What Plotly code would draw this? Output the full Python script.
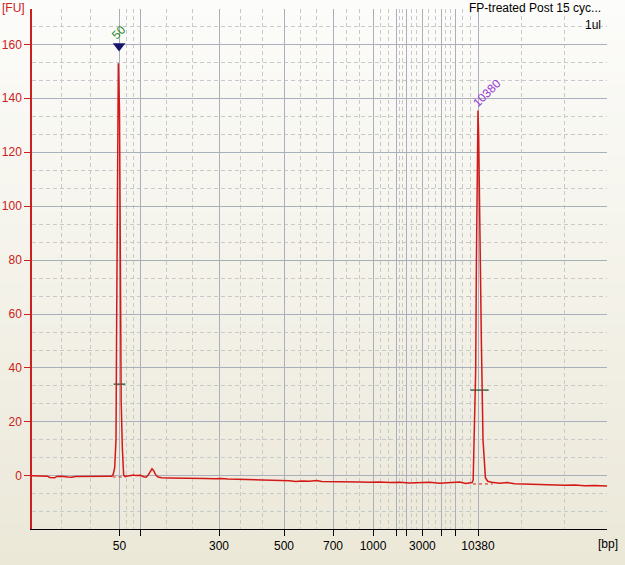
import plotly.graph_objects as go

# ---------------- data ----------------
# migration time (s) and fluorescence (FU)
time_s = [43.00, 43.92, 44.88, 45.12, 45.72, 45.96, 46.56, 47.28, 47.76, 48.24,
          49.32, 50.52, 51.12, 52.08, 52.56, 52.74, 52.92, 53.08, 53.16, 53.36,
          53.50, 53.58, 53.70, 53.84, 54.00, 54.18, 54.36, 54.72, 55.20, 55.44,
          55.80, 56.04, 56.40, 56.70, 56.94, 57.18, 57.40, 57.60, 57.84, 58.12,
          58.56, 59.52, 60.72, 61.68, 62.52, 63.72, 64.92, 65.76, 66.48, 67.92,
          69.12, 70.32, 71.52, 72.72, 73.92, 74.64, 75.36, 76.32, 77.16, 77.76,
          78.72, 79.92, 81.12, 82.32, 83.52, 84.72, 85.92, 87.12, 88.32, 89.52,
          90.72, 91.92, 93.12, 94.32, 95.04, 95.52, 95.82, 95.94, 96.12, 96.24,
          96.33, 96.41, 96.52, 96.60, 96.72, 96.93, 97.12, 97.41, 97.68, 98.16,
          99.12, 100.08, 100.92, 102.12, 103.32, 104.52, 105.72, 106.92, 108.12, 109.32,
          110.52, 112.00]
fu = [0.0, 0.0, -0.1, -0.6, -0.7, -0.2, -0.1, -0.4, -0.5, -0.2,
      -0.1, -0.2, -0.2, -0.1, -0.1, 0.5, 3.0, 13.5, 58.0, 153.0,
      136.0, 88.7, 27.6, 10.5, 0.3, -0.2, -0.1, 0.2, 0.3, 0.1,
      0.3, 0.2, -0.3, -0.5, 0.3, 1.8, 2.6, 1.9, 0.4, -0.4,
      -0.7, -0.8, -0.8, -1.0, -0.9, -1.0, -1.1, -1.0, -1.2, -1.3,
      -1.4, -1.3, -1.6, -1.6, -1.8, -2.1, -1.9, -2.0, -1.7, -2.1,
      -2.2, -2.1, -2.3, -2.3, -2.4, -2.3, -2.5, -2.4, -2.6, -2.5,
      -2.4, -2.7, -2.6, -2.3, -2.8, -2.6, -2.5, -1.5, 18.4, 39.0,
      80.0, 110.5, 135.5, 125.8, 87.2, 48.6, 13.4, -0.7, -2.0, -2.4,
      -2.7, -2.5, -2.9, -3.0, -3.3, -3.2, -3.4, -3.5, -3.4, -3.7,
      -3.6, -3.8]

# ladder positions (time, s) and their bp labels
tick_time = [53.49, 55.96, 65.44, 73.24, 79.12, 83.92, 86.68, 87.88, 89.85, 92.13, 93.76, 96.52]
tick_label = ["50", "", "300", "500", "700", "1000", "", "", "3000", "", "", "10380"]
x_start, x_end = 43.0, 112.0

y_ticks = [0, 20, 40, 60, 80, 100, 120, 140, 160]

# called peaks
peak_label = ["50", "10380"]
peak_time = [53.45, 97.60]
peak_marker_fu = [159.4, None]
peak_label_fu = [164.5, 142.0]
peak_label_color = ["#2a8a2a", "#9a3ad6"]
# peak windows (level lines) and baselines
win_start = [52.80, 95.61]
win_end = [54.20, 97.80]
win_level = [34.0, 31.8]
base_start = [52.68, 95.92]
base_end = [54.24, 98.28]
base_level = [-0.4, -3.0]

# ---------------- figure ----------------
W, H = 625, 565
ML, MR, MT, MB = 32, 18, 9, 36
FONT = "Liberation Sans"

fig = go.Figure()

# peak windows and baselines
for i in range(len(win_start)):
    fig.add_trace(go.Scatter(x=[win_start[i], win_end[i]], y=[win_level[i]] * 2,
                             mode="lines", line=dict(color="#2f6b4f", width=1.5),
                             hoverinfo="skip", showlegend=False))
    fig.add_trace(go.Scatter(x=[base_start[i], base_end[i]], y=[base_level[i]] * 2,
                             mode="lines", line=dict(color="#cc2222", width=1, dash="3px,3px"),
                             hoverinfo="skip", showlegend=False))

fig.add_trace(go.Scatter(x=time_s, y=fu, mode="lines",
                         line=dict(color="#d41818", width=1.5),
                         showlegend=False))

# peak marker triangle
fig.add_trace(go.Scatter(x=[peak_time[0]], y=[peak_marker_fu[0]], mode="markers",
                         marker=dict(symbol="triangle-down", size=11, color="#16166a",
                                     line=dict(width=0)),
                         showlegend=False))

for i in range(len(peak_label)):
    fig.add_annotation(x=peak_time[i], y=peak_label_fu[i], text=peak_label[i],
                       textangle=-45, showarrow=False, xanchor="center", yanchor="middle",
                       font=dict(family=FONT, size=12, color=peak_label_color[i]))

# minor grid: thirds between ladder lines
bounds = [x_start] + tick_time + [x_end]
minor_x = []
for a, b in zip(bounds[:-1], bounds[1:]):
    minor_x += [a + (b - a) / 3, a + 2 * (b - a) / 3]
minor_x.append(x_end)

fig.update_xaxes(range=[x_start, x_end], showline=True, linecolor="black", linewidth=1,
                 ticks="outside", ticklen=6, tickcolor="black", tickwidth=1,
                 tickmode="array", tickvals=tick_time, ticktext=tick_label,
                 showgrid=True, gridcolor="#a9b0bc", gridwidth=1, zeroline=False,
                 automargin=False,
                 tickfont=dict(family=FONT, size=12, color="black"),
                 minor=dict(tickmode="array", tickvals=minor_x, showgrid=True,
                            gridcolor="#c9c9c9", griddash="4px,3px", ticks=""))
fig.update_yaxes(range=[-19.7, 173.1], showline=True, linecolor="#cc2020", linewidth=1.5,
                 ticks="outside", ticklen=6, tickcolor="#cc2020", tickwidth=1,
                 tickmode="array", tickvals=y_ticks,
                 showgrid=True, gridcolor="#a9b0bc", gridwidth=1, zeroline=False,
                 automargin=False,
                 tickfont=dict(family=FONT, size=12, color="#cc2020"),
                 minor=dict(tick0=0, dtick=20 / 3, showgrid=True,
                            gridcolor="#c9c9c9", griddash="4px,3px", ticks=""))

# background gradient bands (paper coords)
ph = H - MT - MB
pw = W - ML - MR
n = 40
top_c = (252, 252, 250)
bot_c = (235, 232, 216)
shapes = []
for k in range(n):
    py0 = H * k / n
    py1 = H * (k + 1) / n + 1
    f = (k + 0.5) / n
    c = tuple(round(top_c[j] + (bot_c[j] - top_c[j]) * f) for j in range(3))
    shapes.append(dict(type="rect", xref="paper", yref="paper",
                       x0=-ML / pw - 0.01, x1=1 + MR / pw + 0.01,
                       y0=(H - MB - py1) / ph, y1=(H - MB - py0) / ph,
                       fillcolor="rgb(%d,%d,%d)" % c, line=dict(width=0), layer="below"))

def px2paper(x, y):
    return (x - ML) / pw, (H - MB - y) / ph

ax, ay = px2paper(0, 8)
fig.add_annotation(xref="paper", yref="paper", x=ax, y=ay, text="[FU]", showarrow=False,
                   xanchor="left", yanchor="middle", font=dict(family=FONT, size=12, color="#cc2020"))
ax, ay = px2paper(596, 544)
fig.add_annotation(xref="paper", yref="paper", x=ax, y=ay, text="[bp]", showarrow=False,
                   xanchor="left", yanchor="middle", font=dict(family=FONT, size=12, color="black"))
ax, ay = px2paper(603, 8)
fig.add_annotation(xref="paper", yref="paper", x=ax, y=ay, text="FP-treated Post 15 cyc...",
                   showarrow=False, xanchor="right", yanchor="middle",
                   font=dict(family=FONT, size=12, color="black"))
ax, ay = px2paper(603, 25)
fig.add_annotation(xref="paper", yref="paper", x=ax, y=ay, text="1ul",
                   showarrow=False, xanchor="right", yanchor="middle",
                   font=dict(family=FONT, size=12, color="black"))

fig.update_layout(width=W, height=H, margin=dict(l=ML, r=MR, t=MT, b=MB, pad=0),
                  paper_bgcolor="#ece9d8", plot_bgcolor="rgba(0,0,0,0)",
                  shapes=shapes, showlegend=False, hovermode=False)

fig.write_html("out.html", config={"displayModeBar": False},
               post_script="document.body.style.margin='0';document.body.style.padding='0';")
